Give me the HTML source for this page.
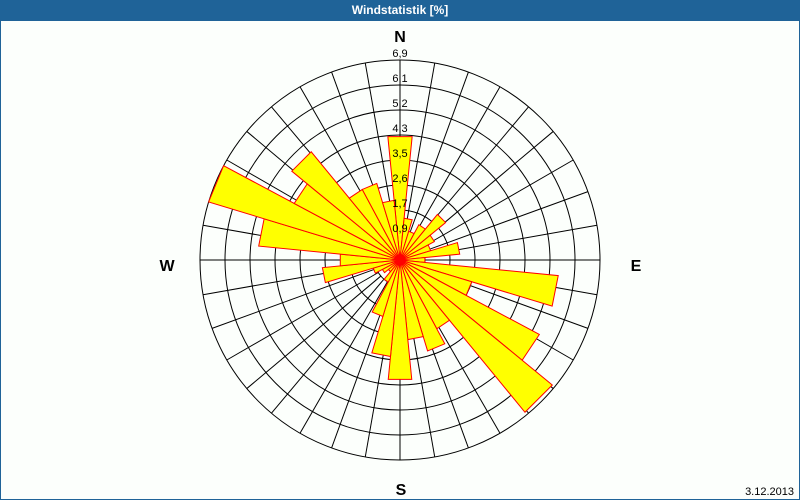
<!DOCTYPE html>
<html><head><meta charset="utf-8"><style>
html,body{margin:0;padding:0;}
body{width:800px;height:500px;overflow:hidden;background:#fcfffc;}
#f{position:absolute;left:0;top:0;width:798px;height:498px;border:1px solid #1f6398;background:#fcfffc;}
#h{position:absolute;left:0;top:0;width:800px;height:21px;background:#1f6398;color:#fff;font:bold 12px "Liberation Sans",sans-serif;text-align:center;line-height:20px;}
svg{position:absolute;left:0;top:0;}
</style></head><body>
<div id="f"></div>
<div id="h">Windstatistik [%]</div>
<svg id="s" width="800" height="500" xmlns="http://www.w3.org/2000/svg" font-family="Liberation Sans, sans-serif"></svg>
<script>
var s=document.getElementById('s'),cx=400,cy=260,R=200,h='';
for(var a=0;a<360;a+=10){var t=a*Math.PI/180;
h+='<line x1="'+(cx+25*Math.sin(t))+'" y1="'+(cy-25*Math.cos(t))+'" x2="'+(cx+R*Math.sin(t))+'" y2="'+(cy-R*Math.cos(t))+'" stroke="#000" stroke-width="1"/>';}
for(var i=1;i<=8;i++)h+='<circle cx="'+cx+'" cy="'+cy+'" r="'+(i*25)+'" fill="none" stroke="#000" stroke-width="1"/>';
var r=[124,42,30,40,59,39,32,60,25,159,75,158,197,78,95,80,120,97,59,25,15,20,28,78,60,142,200,120,140,80,80,60];
for(var k=0;k<32;k++){var b=k*11.25,a1=(b-5.625)*Math.PI/180,a2=(b+5.625)*Math.PI/180,q=r[k];
h+='<polygon points="'+cx+','+cy+' '+(cx+q*Math.sin(a1))+','+(cy-q*Math.cos(a1))+' '+(cx+q*Math.sin(a2))+','+(cy-q*Math.cos(a2))+'" fill="#ffff00" stroke="#ff0000" stroke-width="1"/>';}
var L=['0,9','1,7','2,6','3,5','4,3','5,2','6,1','6,9'];
for(var i=0;i<8;i++)h+='<text x="400" y="'+(cy-(i+1)*25-3)+'" font-size="11" text-anchor="middle" fill="#000">'+L[i]+'</text>';
h+='<text x="400" y="42" font-size="16" font-weight="bold" text-anchor="middle">N</text>';
h+='<text x="401" y="495" font-size="16" font-weight="bold" text-anchor="middle">S</text>';
h+='<text x="167" y="271" font-size="16" font-weight="bold" text-anchor="middle">W</text>';
h+='<text x="636" y="271" font-size="16" font-weight="bold" text-anchor="middle">E</text>';
h+='<text x="794" y="495" font-size="11" text-anchor="end">3.12.2013</text>';
s.innerHTML=h;
</script>
</body></html>
